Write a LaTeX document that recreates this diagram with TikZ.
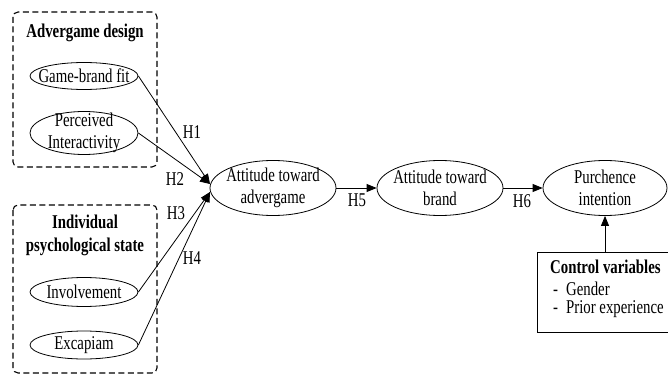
\documentclass[tikz,border=0pt]{standalone}
\usepackage{fontspec}
\setmainfont{Liberation Serif}[FakeStretch=0.76]
\usetikzlibrary{shapes.geometric,arrows.meta}
\begin{document}
\begin{tikzpicture}[x=1pt,y=1pt,
  font=\fontsize{19.5}{22}\selectfont,
  grp/.style={draw,line width=1.1pt,dash pattern=on 6pt off 3.5pt,rounded corners=5pt},
  ell/.style={draw,ellipse,line width=0.8pt,minimum width=108pt,inner sep=0pt},
  bigell/.style={draw,ellipse,line width=0.8pt,minimum width=126pt,minimum height=55pt,inner sep=0pt},
  txt/.style={align=center,inner sep=0pt},
  arr/.style={line width=0.8pt,-{Triangle[length=10pt,width=8pt]}},
  hlab/.style={inner sep=0pt}]
\useasboundingbox (0,0) rectangle (668,375);
% group boxes
\draw[grp] (13,363) rectangle (157,208);
\draw[grp] (13,170) rectangle (157,2);
\node[txt,font=\fontsize{19.5}{22}\selectfont\bfseries] (g1) at (85,342) {Advergame design};
\node[txt,font=\fontsize{19.5}{23}\selectfont\bfseries] (g2) at (85,140) {Individual\\psychological state};
% left ellipses
\node[ell,minimum height=27pt] (gbf) at (84,299) {};
\node[txt] at (gbf) {Game-brand fit};
\node[ell,minimum height=43pt] (pi) at (84,242) {};
\node[txt] at (pi) {Perceived\\Interactivity};
\node[ell,minimum height=29pt] (inv) at (84,83) {};
\node[txt] at (inv) {Involvement};
\node[ell,minimum height=28pt] (exc) at (84,30) {};
\node[txt] at (exc) {Excapiam};
% main chain
\node[bigell] (adv) at (273,187) {};
\node[txt] at (adv) {Attitude toward\\advergame};
\node[bigell] (ab) at (440,187) {};
\node[txt] at (ab) {Attitude toward\\brand};
\node[bigell,minimum width=124pt] (pur) at (605,187) {};
\node[txt] at (pur) {Purchence\\intention};
% control box
\node[draw,line width=0.8pt,minimum width=131pt,minimum height=80pt,inner sep=0pt] (ctrl) at (602.5,83) {};
\node[anchor=west,align=left,inner sep=0pt] (ctext) at (550,86)
  {\textbf{Control variables}\\\hspace*{3pt}-\hspace{8pt}Gender\\[-3.5pt]\hspace*{3pt}-\hspace{8pt}Prior experience};
% connection points on attitude ellipse
\coordinate (a1) at (210,191);
\coordinate (a2) at (210,183);
\draw[arr] (gbf.east) -- (a1);
\draw[arr] (pi.east) -- (a1);
\draw[arr] (inv.east) -- (a2);
\draw[arr] (exc.east) -- (a2);
\draw[arr] (adv.east) -- (ab.west);
\draw[arr] (ab.east) -- (pur.west);
\draw[arr] (ctrl.north -| pur.south) -- (pur.south);
% labels
\node[hlab] (h1) at (192,243) {H1};
\node[hlab] (h2) at (175,196) {H2};
\node[hlab] (h3) at (176,162) {H3};
\node[hlab] (h4) at (192,117) {H4};
\node[hlab] (h5) at (357,175) {H5};
\node[hlab] (h6) at (522,174) {H6};
\end{tikzpicture}
\end{document}
